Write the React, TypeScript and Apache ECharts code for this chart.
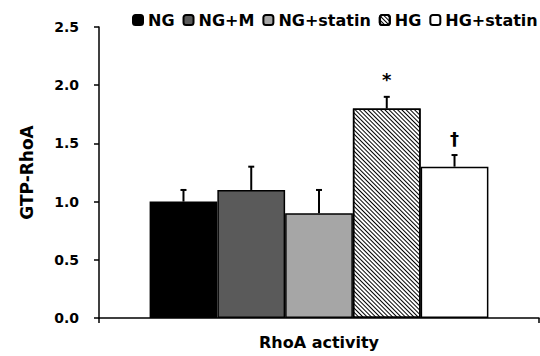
import React, { useEffect, useRef } from "react";
import * as echarts from "echarts";

const categories = ["RhoA activity"];
const seriesNames = ["NG", "NG+M", "NG+statin", "HG", "HG+statin"];
const means = [1.0, 1.1, 0.9, 1.8, 1.3];
const upperErrors = [1.1, 1.3, 1.1, 1.9, 1.4];
const marks = ["", "", "", "*", "†"];
const yTicks = [0, 0.5, 1.0, 1.5, 2.0, 2.5];

const fills = ["#000000", "#5a5a5a", "#a6a6a6", "#ffffff", "#ffffff"];
const FONT = "DejaVu Sans";
const GAP = 0.23;

export default function App() {
  const ref = useRef<HTMLDivElement>(null);
  useEffect(() => {
    if (!ref.current) return;
    const chart = echarts.init(ref.current, undefined, { renderer: "svg" });
    const barSeries = seriesNames.map((name, i) => ({
      name,
      type: "bar",
      data: [means[i]],
      barGap: "0%",
      barCategoryGap: GAP * 100 + "%",
      itemStyle: {
        color: fills[i],
        borderColor: "#000",
        borderWidth: 1.5,
        decal:
          i === 3
            ? {
                symbol: "rect",
                symbolSize: 1,
                dashArrayX: [1, 0],
                dashArrayY: [1, 1.2],
                rotation: Math.PI / 4,
                color: "#000",
              }
            : undefined,
      },
      emphasis: { disabled: true },
    }));
    const errData = means.map((m, i) => [0, m, upperErrors[i], i, marks[i]]);
    chart.setOption({
      animation: false,
      grid: { left: 99, right: 1, top: 27, bottom: 38 },
      legend: {
        data: seriesNames,
        left: 127,
        top: 7,
        width: 410,
        itemWidth: 10,
        itemHeight: 10,
        itemGap: 8,
        textStyle: { fontFamily: FONT, fontWeight: "bold", fontSize: 16, color: "#000" },
      },
      xAxis: {
        type: "category",
        data: categories,
        axisLine: { lineStyle: { color: "#000", width: 1.5 } },
        axisTick: { show: true, length: 5, lineStyle: { color: "#000", width: 1.5 } },
        axisLabel: { fontFamily: FONT, fontWeight: "bold", fontSize: 16, color: "#000", margin: 16 },
      },
      yAxis: {
        type: "value",
        min: yTicks[0],
        max: yTicks[yTicks.length - 1],
        interval: 0.5,
        name: "GTP-RhoA",
        nameLocation: "middle",
        nameGap: 64,
        nameTextStyle: { fontFamily: FONT, fontWeight: "bold", fontSize: 17, color: "#000" },
        axisLine: { show: true, lineStyle: { color: "#000", width: 1.5 } },
        axisTick: { show: true, length: 5, lineStyle: { color: "#000", width: 1.5 } },
        splitLine: { show: false },
        axisLabel: {
          fontFamily: FONT,
          fontWeight: "bold",
          fontSize: 14,
          color: "#000",
          margin: 20,
          formatter: (v: number) => v.toFixed(1),
        },
      },
      series: [
        ...barSeries,
        {
          type: "custom",
          name: "err",
          data: errData,
          z: 5,
          renderItem: (params: any, api: any) => {
            const idx = api.value(3);
            const base = api.coord([0, api.value(1)]);
            const top = api.coord([0, api.value(2)]);
            const band = api.size([1, 0])[0];
            const total = band * (1 - GAP);
            const bw = total / seriesNames.length;
            const x = base[0] - total / 2 + (idx + 0.5) * bw;
            const mark = marks[idx];
            const children: any[] = [
              {
                type: "line",
                shape: { x1: x, y1: base[1], x2: x, y2: top[1] },
                style: { stroke: "#000", lineWidth: 2 },
              },
              {
                type: "line",
                shape: { x1: x - 3, y1: top[1], x2: x + 3, y2: top[1] },
                style: { stroke: "#000", lineWidth: 2 },
              },
            ];
            if (mark) {
              children.push({
                type: "text",
                style: {
                  text: mark,
                  x,
                  y: top[1] - 8,
                  textAlign: "center",
                  textVerticalAlign: "bottom",
                  fontFamily: FONT,
                  fontWeight: "bold",
                  fontSize: 18,
                  fill: "#000",
                },
              });
            }
            return { type: "group", children };
          },
        },
      ],
    });
    return () => chart.dispose();
  }, []);
  return <div ref={ref} style={{ width: 540, height: 356, position: "absolute", left: 0, top: 0 }} />;
}
